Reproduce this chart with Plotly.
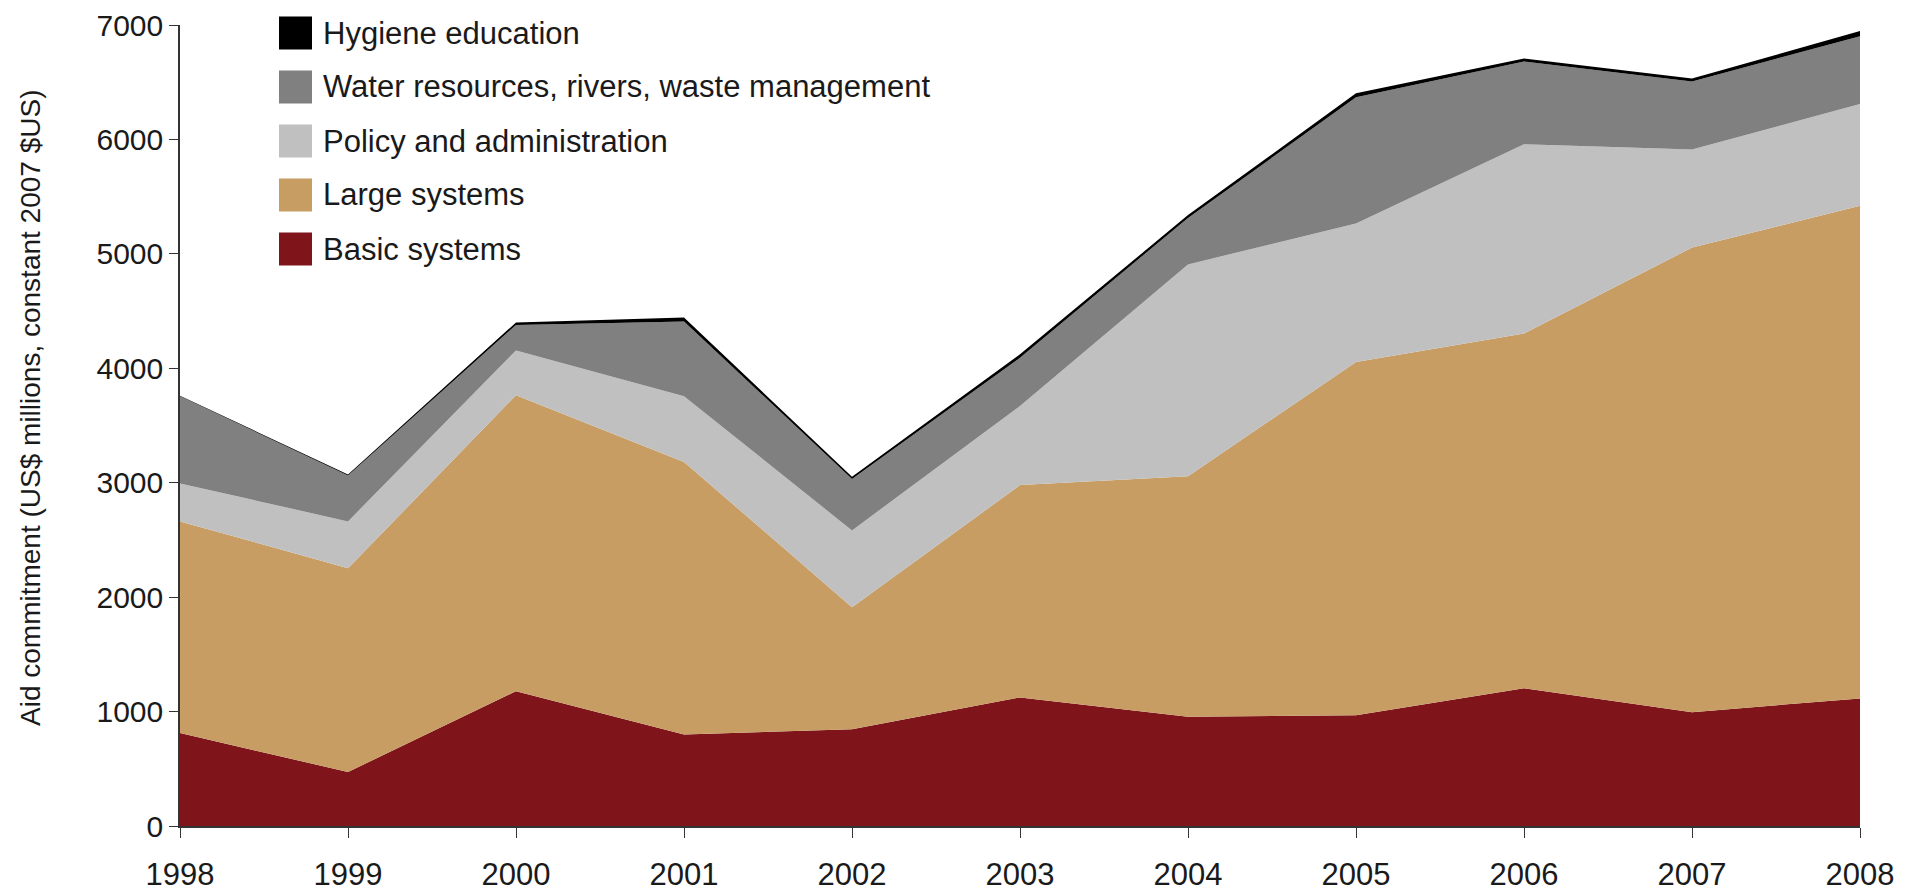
import plotly.graph_objects as go

years = [1998, 1999, 2000, 2001, 2002, 2003, 2004, 2005, 2006, 2007, 2008]
basic_systems = [812, 472, 1178, 800, 845, 1124, 955, 968, 1203, 995, 1115]
large_systems = [1850, 1780, 2587, 2382, 1067, 1855, 2102, 3087, 3100, 4060, 4305]
policy_admin = [332, 410, 391, 574, 671, 692, 1851, 1210, 1654, 858, 889]
water_resources = [762, 401, 223, 653, 450, 421, 406, 1103, 723, 594, 593]
hygiene_education = [5, 8, 22, 35, 20, 30, 25, 35, 28, 25, 45]

series_names = ["Basic systems", "Large systems", "Policy and administration",
                "Water resources, rivers, waste management", "Hygiene education"]
series_values = [basic_systems, large_systems, policy_admin, water_resources, hygiene_education]
series_colors = ["#7F141A", "#C89D64", "#C0C0C0", "#808080", "#000000"]

y_ticks = [0, 1000, 2000, 3000, 4000, 5000, 6000, 7000]

FONT = "Liberation Sans, Arial, Helvetica, sans-serif"

fig = go.Figure()
for name, vals, col in zip(series_names, series_values, series_colors):
    fig.add_trace(go.Scatter(
        x=years, y=vals, name=name, stackgroup="one", mode="none",
        fillcolor=col, showlegend=False,
    ))

# target plot area on screen: x 180..1860, y 25..826 ; page body offset 8px
OFF = 8
L, R, T, B = 180 - OFF, 1860 - OFF, 25 - OFF, 826 - OFF
W, H = R - L, B - T

def px(xs):
    return (xs - OFF - L) / W

def py(ys):
    return (B - (ys - OFF)) / H

legend_rows = [33, 87, 141, 195, 249]
for i, (name, col) in enumerate(zip(series_names[::-1], series_colors[::-1])):
    yc = legend_rows[i]
    fig.add_shape(type="rect", xref="paper", yref="paper",
                  x0=px(279), x1=px(312), y0=py(yc + 16.5), y1=py(yc - 16.5),
                  fillcolor=col, line=dict(width=0))
    fig.add_annotation(xref="paper", yref="paper", x=px(321), y=py(yc),
                       xanchor="left", yanchor="middle", text=name, showarrow=False,
                       font=dict(family=FONT, size=31, color="#1a1a1a"))

fig.add_annotation(xref="paper", yref="paper", x=px(31), y=py(408),
                   text="Aid commitment (US$ millions, constant 2007 $US)",
                   textangle=-90, showarrow=False, xanchor="center", yanchor="middle",
                   font=dict(family=FONT, size=28, color="#1a1a1a"))

fig.update_layout(
    width=1905, height=894,
    margin=dict(l=L, r=1905 - R, t=T, b=894 - B, autoexpand=False),
    paper_bgcolor="white", plot_bgcolor="white",
    font=dict(family=FONT, size=30, color="#1a1a1a"),
    showlegend=False,
)
fig.update_xaxes(
    range=[1998, 2008], tickvals=years, ticktext=[str(y) for y in years],
    showgrid=False, zeroline=False, showline=True, linecolor="#333", linewidth=1.5,
    ticks="outside", ticklen=10, tickcolor="#333", tickwidth=1.2,
    ticklabelstandoff=10, automargin=False, ticklabeloverflow="allow",
    tickfont=dict(family=FONT, size=31, color="#1a1a1a"),
)
fig.update_yaxes(
    range=[0, 7000], tickvals=y_ticks, ticktext=[str(v) for v in y_ticks],
    showgrid=False, zeroline=False, showline=True, linecolor="#333", linewidth=1.5,
    ticks="outside", ticklen=9, tickcolor="#333", tickwidth=1.2, automargin=False,
    ticklabeloverflow="allow",
    tickfont=dict(family=FONT, size=30, color="#1a1a1a"),
)

fig.write_html("out.html")
